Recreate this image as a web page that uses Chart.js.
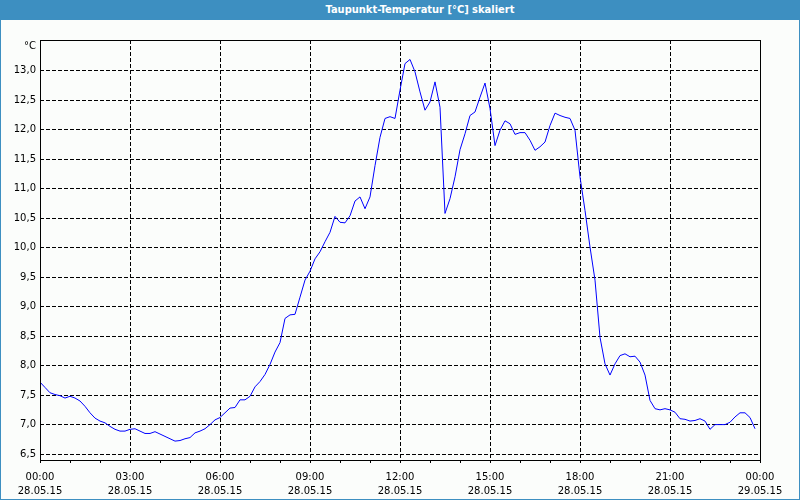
<!DOCTYPE html>
<html>
<head>
<meta charset="utf-8">
<script src="https://cdn.jsdelivr.net/npm/chart.js@4/dist/chart.umd.min.js"></script>
<style>
  body { margin: 0; background: #fbfdfb; }
  #wrap { position: relative; width: 800px; height: 500px; overflow: hidden; }
  #titlebar {
    position: absolute; left: 0; top: 0; width: 800px; height: 20px;
    background: rgb(61,143,193); color: #fff;
    font: bold 11px "DejaVu Sans Condensed", "DejaVu Sans", sans-serif;
    line-height: 20px; text-align: center; box-sizing: border-box; padding-left: 40px;
  }
  #frame {
    position: absolute; left: 0; top: 0; width: 800px; height: 500px;
    box-sizing: border-box; border: 1px solid rgb(61,143,193); border-top: none;
    pointer-events: none;
  }
  canvas { position: absolute; left: 0; top: 0; background: #fbfdfb; }
</style>
</head>
<body>
<div id="wrap">
  <canvas id="myChart" width="800" height="500"></canvas>
  <div id="titlebar">Taupunkt-Temperatur [°C] skaliert</div>
  <div id="frame"></div>
</div>
<script>
// dew point readings, one every 10 minutes starting 28.05.15 00:00
var stepMinutes = 10;
var dewPoint = [
  7.72, 7.63, 7.54, 7.51, 7.49, 7.45, 7.48, 7.45, 7.40, 7.31, 7.20, 7.11,
  7.06, 7.03, 6.97, 6.92, 6.89, 6.89, 6.92, 6.93, 6.89, 6.85, 6.85, 6.88,
  6.84, 6.80, 6.76, 6.72, 6.73, 6.76, 6.78, 6.86, 6.89, 6.93, 7.00, 7.08,
  7.12, 7.20, 7.28, 7.29, 7.42, 7.42, 7.48, 7.64, 7.73, 7.85, 8.02, 8.23,
  8.39, 8.80, 8.86, 8.87, 9.16, 9.45, 9.60, 9.81, 9.93, 10.10, 10.26, 10.53,
  10.43, 10.42, 10.54, 10.79, 10.86, 10.66, 10.86, 11.39, 11.87, 12.19, 12.22, 12.19,
  12.67, 13.12, 13.19, 12.98, 12.64, 12.33, 12.47, 12.81, 12.38, 10.58, 10.83, 11.20,
  11.66, 11.93, 12.24, 12.30, 12.55, 12.79, 12.36, 11.73, 11.99, 12.15, 12.10, 11.92,
  11.95, 11.95, 11.82, 11.65, 11.71, 11.79, 12.07, 12.28, 12.24, 12.21, 12.19, 11.99,
  11.20, 10.63, 10.01, 9.45, 8.48, 8.03, 7.84, 8.03, 8.17, 8.20, 8.15, 8.16,
  8.06, 7.84, 7.41, 7.27, 7.25, 7.27, 7.25, 7.21, 7.10, 7.09, 7.06, 7.07,
  7.10, 7.06, 6.92, 7.00, 7.00, 7.00, 7.04, 7.13, 7.20, 7.20, 7.12, 6.93
];

var yTicks = [6.5, 7.0, 7.5, 8.0, 8.5, 9.0, 9.5, 10.0, 10.5, 11.0, 11.5, 12.0, 12.5, 13.0];
var yMin = 6.40, yMax = 13.52;
var yUnit = "°C";

// x labels every 3 hours, minor tick marks every hour
var xLabelTimes = ["00:00", "03:00", "06:00", "09:00", "12:00", "15:00", "18:00", "21:00", "00:00"];
var xLabelDates = ["28.05.15", "28.05.15", "28.05.15", "28.05.15", "28.05.15", "28.05.15", "28.05.15", "28.05.15", "29.05.15"];

var points = dewPoint.map(function (v, i) { return { x: i * stepMinutes, y: v }; });

var frameAndUnit = {
  id: "frameAndUnit",
  afterDatasetsDraw: function (chart) {
    var a = chart.chartArea;
    var ctx = chart.ctx;
    ctx.save();
    ctx.strokeStyle = "#000";
    ctx.lineWidth = 1;
    var l = Math.round(a.left), t = Math.round(a.top);
    var r = Math.round(a.right), b = Math.round(a.bottom);
    ctx.strokeRect(l + 0.5, t + 0.5, r - l, b - t);
    ctx.fillStyle = "#000";
    ctx.font = "10px 'DejaVu Sans'";
    ctx.textAlign = "right";
    ctx.textBaseline = "middle";
    ctx.fillText(yUnit, a.left - 4, a.top + 6);
    ctx.restore();
  }
};

var config = {
  type: "line",
  data: {
    datasets: [{
      data: points,
      borderColor: "#0000ff",
      borderWidth: 1,
      pointRadius: 0,
      tension: 0,
      fill: false
    }]
  },
  options: {
    responsive: false,
    animation: false,
    layout: { padding: { top: 40, right: 40, left: 0, bottom: 0 } },
    plugins: { legend: { display: false }, tooltip: { enabled: false } },
    scales: {
      x: {
        type: "linear",
        min: 0,
        max: 1440,
        afterBuildTicks: function (scale) {
          var t = [];
          for (var m = 0; m <= 1440; m += 60) t.push({ value: m });
          scale.ticks = t;
        },
        afterFit: function (scale) { scale.height = 40; },
        grid: {
          color: function (c) { return c.tick && c.tick.value % 180 === 0 ? "#000" : "rgba(0,0,0,0)"; },
          tickColor: "#000",
          tickLength: 3,
          lineWidth: 1
        },
        border: { display: false, dash: [4, 2] },
        ticks: {
          autoSkip: false,
          maxRotation: 0,
          padding: 7,
          color: "#000",
          font: { family: "'DejaVu Sans'", size: 10, lineHeight: 1.4 },
          callback: function (value) {
            if (value % 180 !== 0) return "";
            var i = value / 180;
            return [xLabelTimes[i], xLabelDates[i]];
          }
        }
      },
      y: {
        min: yMin,
        max: yMax,
        afterBuildTicks: function (scale) {
          scale.ticks = yTicks.map(function (v) { return { value: v }; });
        },
        afterFit: function (scale) { scale.width = 40; },
        grid: { color: "#000", lineWidth: 1, drawTicks: false },
        border: { display: false, dash: [4, 2] },
        ticks: {
          padding: 4,
          color: "#000",
          font: { family: "'DejaVu Sans'", size: 10 },
          callback: function (value) { return value.toFixed(1).replace(".", ","); }
        }
      }
    }
  },
  plugins: [frameAndUnit]
};

var myChart = new Chart(document.getElementById("myChart"), config);
</script>
</body>
</html>
